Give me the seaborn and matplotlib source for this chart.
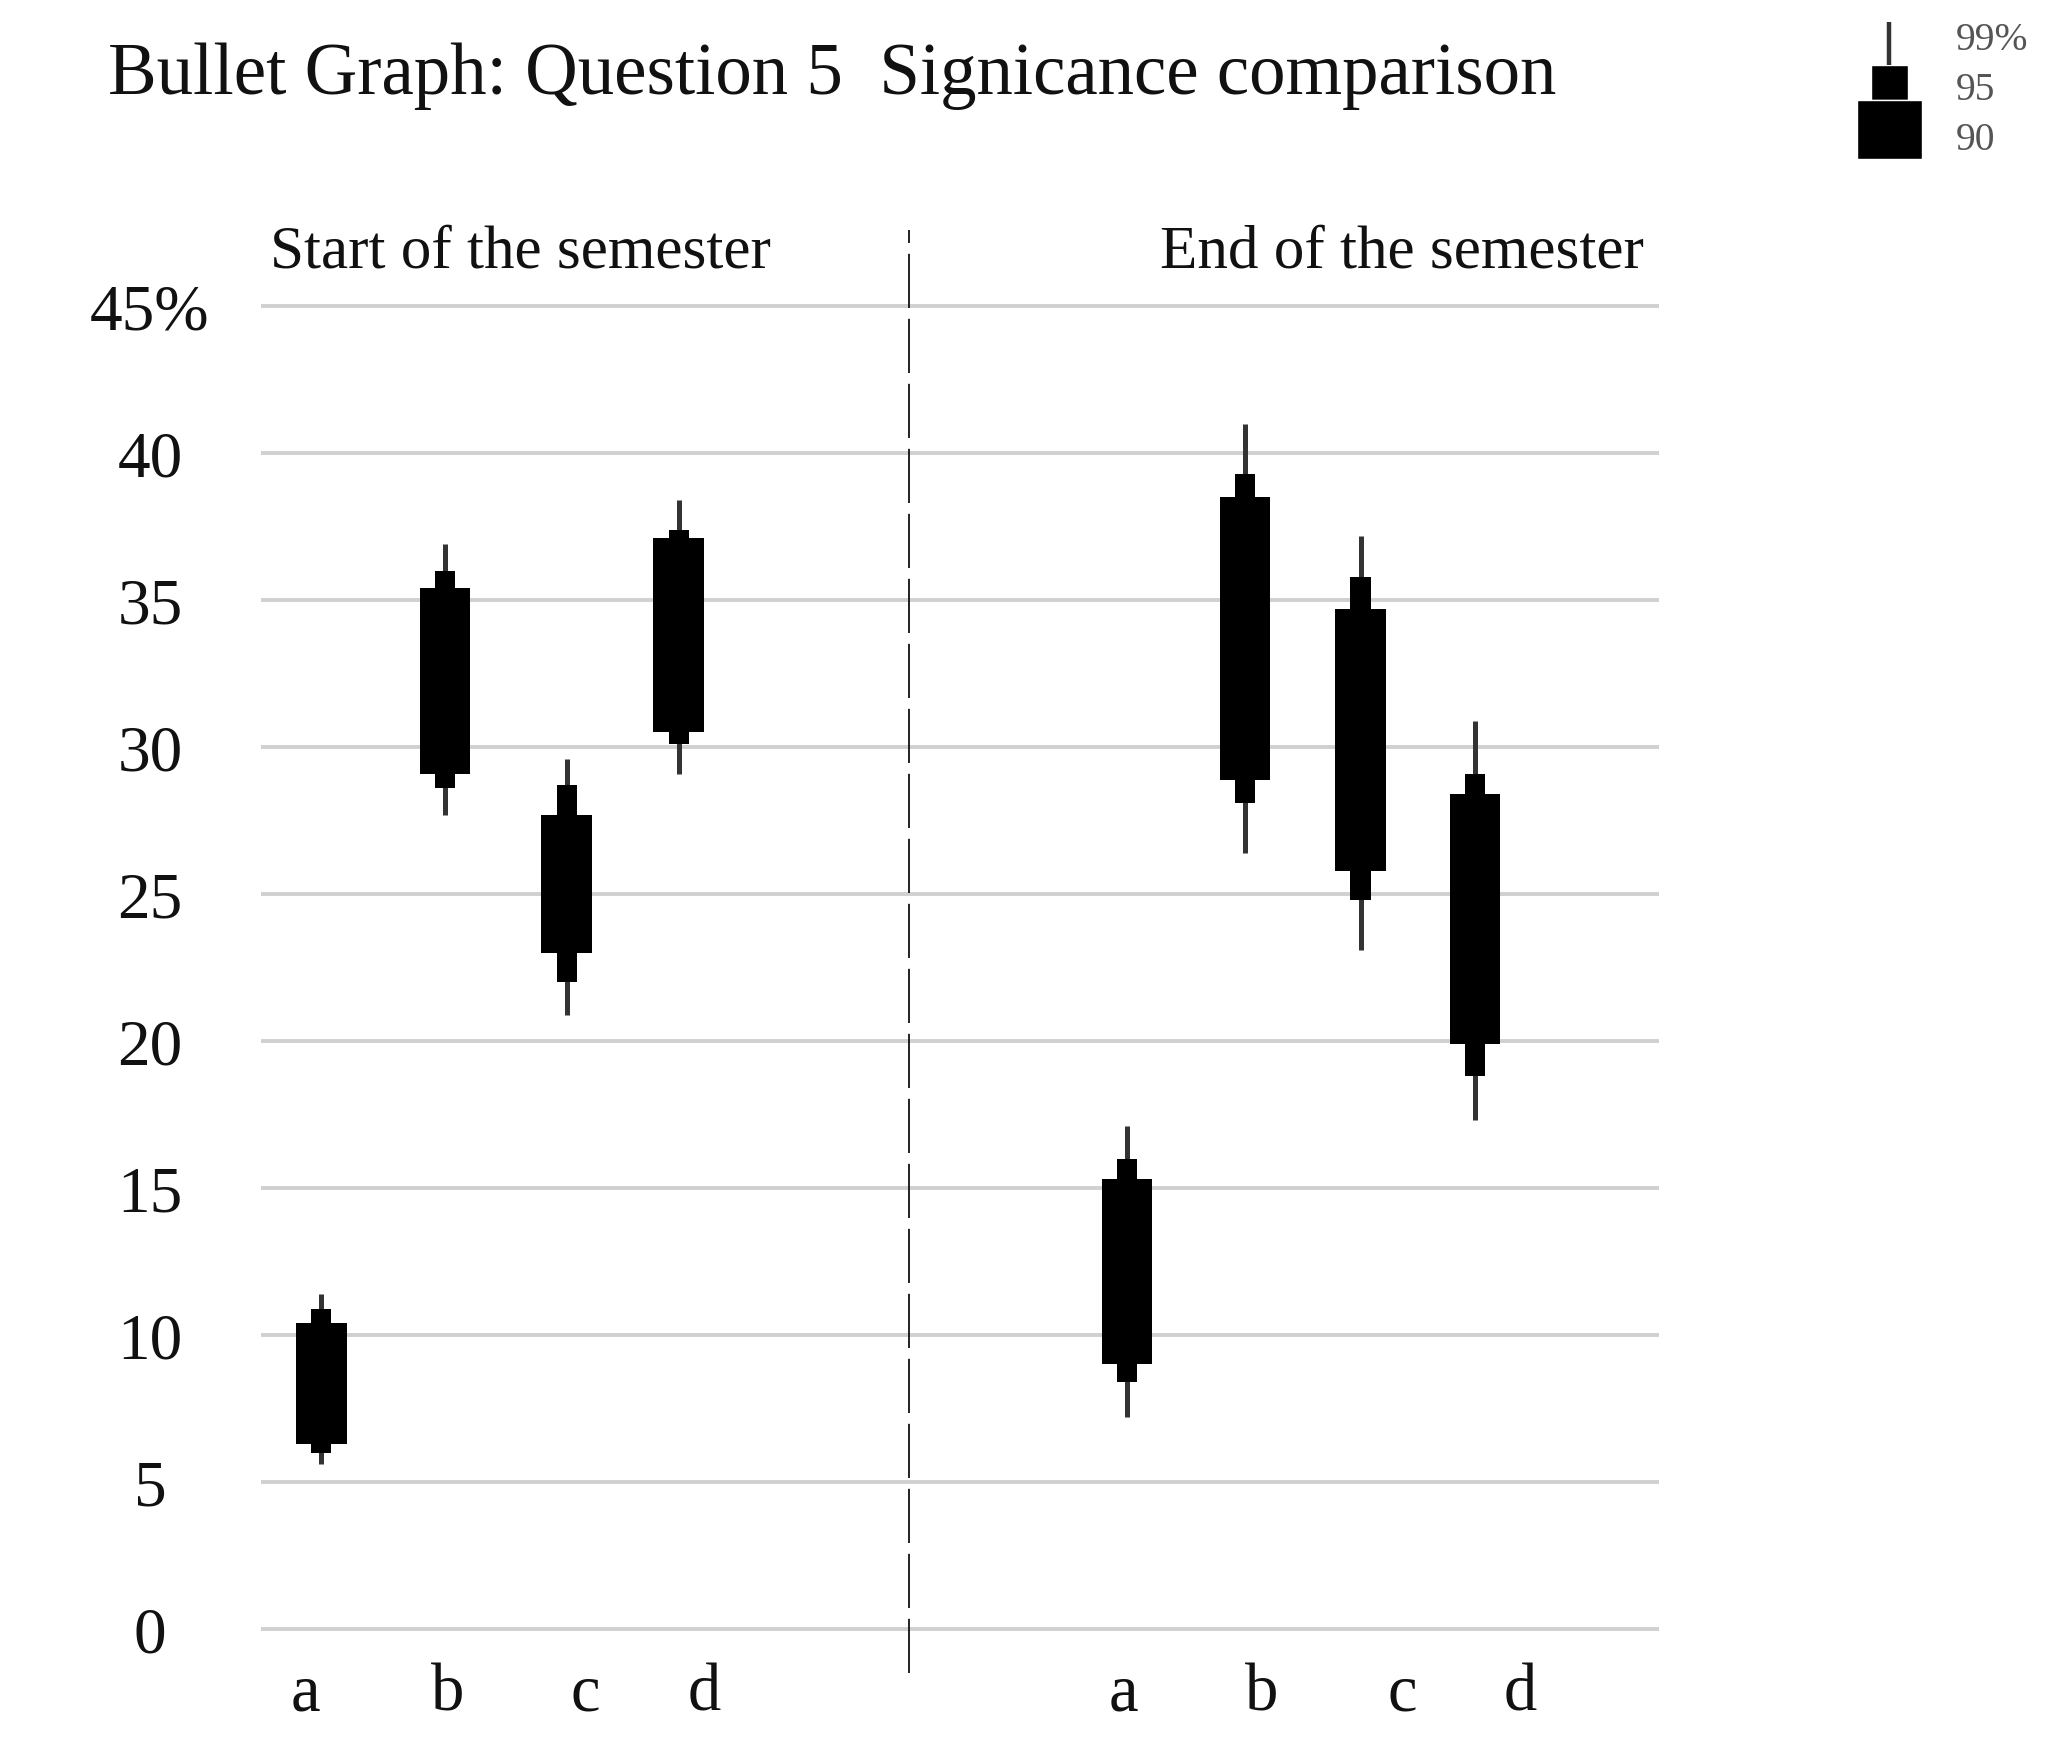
import numpy as np
import pandas as pd
import matplotlib
matplotlib.use("Agg")
import matplotlib.pyplot as plt
import seaborn as sns

# ---------------- data ----------------
categories = ["a", "b", "c", "d"]
periods = ["Start of the semester", "End of the semester"]

start_lo99 = [5.6, 27.7, 20.9, 29.1]
start_lo95 = [6.0, 28.6, 22.0, 30.1]
start_lo90 = [6.3, 29.1, 23.0, 30.5]
start_hi90 = [10.4, 35.4, 27.7, 37.1]
start_hi95 = [10.9, 36.0, 28.7, 37.4]
start_hi99 = [11.4, 36.9, 29.6, 38.4]

end_lo99 = [7.2, 26.4, 23.1, 17.3]
end_lo95 = [8.4, 28.1, 24.8, 18.8]
end_lo90 = [9.0, 28.9, 25.8, 19.9]
end_hi90 = [15.3, 38.5, 34.7, 28.4]
end_hi95 = [16.0, 39.3, 35.8, 29.1]
end_hi99 = [17.1, 41.0, 37.2, 30.9]

y_ticks = [0, 5, 10, 15, 20, 25, 30, 35, 40, 45]
y_tick_labels = ["0", "5", "10", "15", "20", "25", "30", "35", "40", "45%"]
legend_labels = ["99%", "95", "90"]

title = "Bullet Graph: Question 5  Signicance comparison"

# ---------------- build table ----------------
rows = []
for p, (lo99, lo95, lo90, hi90, hi95, hi99) in zip(
    periods,
    [(start_lo99, start_lo95, start_lo90, start_hi90, start_hi95, start_hi99),
     (end_lo99, end_lo95, end_lo90, end_hi90, end_hi95, end_hi99)]):
    for i, c in enumerate(categories):
        rows.append(dict(period=p, cat=c, idx=i, lo99=lo99[i], lo95=lo95[i], lo90=lo90[i],
                         hi90=hi90[i], hi95=hi95[i], hi99=hi99[i]))
df = pd.DataFrame(rows)

# ---------------- layout ----------------
W, H = 2048, 1740
sns.set_theme(style="white")
plt.rcParams["font.family"] = ["Liberation Serif", "DejaVu Serif"]

fig = plt.figure(figsize=(W / 100, H / 100), dpi=100)

def fx(px):
    return px / W

def fy(py):
    return 1 - py / H

ax_left, ax_right, ax_top, ax_bot = 261, 1659, 222, 1680
ax = fig.add_axes([fx(ax_left), fy(ax_bot), fx(ax_right - ax_left), (ax_bot - ax_top) / H])

# slot layout of the categories within each half
slot_start = [0.0, 1.05, 2.08, 3.03]
slot_end = [6.83, 7.83, 8.81, 9.78]
df["x"] = [slot_start[i] if p == periods[0] else slot_end[i]
           for p, i in zip(df["period"], df["idx"])]

# gridlines
for yv in y_ticks:
    ax.axhline(yv, color="#d0d0d0", lw=2.8, zorder=0)

# bullets
ax.vlines(df["x"], df["lo99"], df["hi99"], color="#333333", lw=3.6, zorder=2)
ax.bar(df["x"], df["hi95"] - df["lo95"], bottom=df["lo95"], width=0.17,
       color="black", edgecolor="none", zorder=3)
ax.bar(df["x"], df["hi90"] - df["lo90"], bottom=df["lo90"], width=0.43,
       color="black", edgecolor="none", zorder=4)

# divider
ax.axvline(4.98, ymin=0.004, ymax=0.994, color="#111111", lw=1.3,
           dashes=(30, 6), zorder=1)

ax.set_xlim(-0.51, 11.34)
ax.set_ylim(-1.7, 47.9)
ax.set_yticks(y_ticks)
ax.set_yticklabels(y_tick_labels, fontsize=47, color="#111111")
for lbl in ax.get_yticklabels():
    lbl.set_horizontalalignment("center")
ax.tick_params(axis="y", length=0, pad=80)

xt_start = [-0.13, 1.07, 2.24, 3.25]
xt_end = [6.80, 7.97, 9.16, 10.16]
ax.set_xticks(xt_start + xt_end)
ax.set_xticklabels(categories + categories, fontsize=48, color="#111111")
ax.tick_params(axis="x", length=0, pad=-12)
for s in ax.spines.values():
    s.set_visible(False)

# titles
fig.text(fx(108), fy(94), title, fontsize=52.5, color="#111111", va="baseline", ha="left")
fig.text(fx(270), fy(268), periods[0], fontsize=44, color="#111111", va="baseline", ha="left")
fig.text(fx(1160), fy(268), periods[1], fontsize=44, color="#111111", va="baseline", ha="left")

# legend glyph
lg = fig.add_axes([fx(1840), fy(160), fx(100), 150 / H])
lg.set_xlim(0, 100)
lg.set_ylim(0, 150)
lg.axis("off")
leg_lo = [94, 59, 0]
leg_hi = [137, 94, 59]
leg_w = [0, 37, 65]
lg.vlines(49, leg_lo[0], leg_hi[0], color="#333333", lw=3.2)
lg.bar(49, leg_hi[1] - leg_lo[1], bottom=leg_lo[1], width=leg_w[1], color="black")
lg.bar(49, leg_hi[2] - leg_lo[2], bottom=leg_lo[2], width=leg_w[2], color="black")
for lab, py in zip(legend_labels, [50, 100, 150]):
    fig.text(fx(1956), fy(py), lab, fontsize=28.5, color="#555555", va="baseline", ha="left")

fig.savefig("out.png", dpi=100, facecolor="white")
